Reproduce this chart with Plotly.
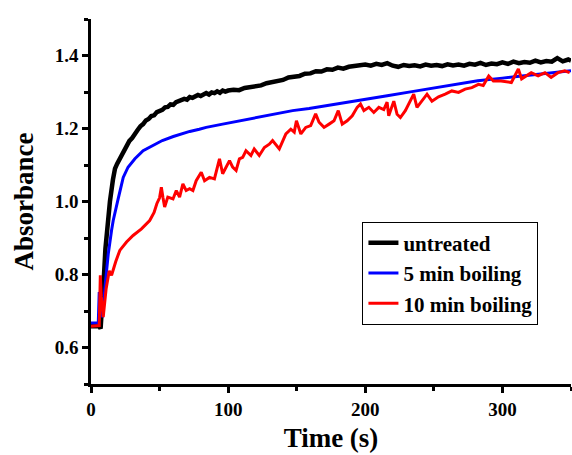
import plotly.graph_objects as go

# ---- data ----
untreated_t = [0, 3, 6, 7, 8, 9.5, 10.5, 12, 13.8, 16, 17.5, 19,
               20, 22, 24, 26, 28, 30, 32, 34, 36, 38, 40, 42, 44, 46, 48, 50, 52, 54, 56, 58,
               60, 62, 64, 66, 68, 70, 72, 74, 76, 78, 80, 82, 84, 86, 88, 90, 92, 94, 96, 98,
               100, 104, 108, 112, 116, 120, 124, 128, 132, 136, 140, 144, 148, 152, 156, 160,
               164, 168, 172, 176, 180, 184, 188, 192, 196, 200, 204, 208, 212, 216, 220, 224,
               228, 232, 236, 240, 244, 248, 252, 256, 260, 264, 268, 272, 276, 280, 284, 288,
               292, 296, 300, 304, 308, 312, 316, 320, 324, 328, 332, 336, 340, 344, 348, 350]
untreated_a = [0.658, 0.659, 0.658, 0.652, 0.70, 0.80, 0.87, 0.94, 1.00, 1.06, 1.09, 1.103,
               1.110, 1.128, 1.140, 1.152, 1.166, 1.174, 1.188, 1.196, 1.206, 1.212, 1.222, 1.226,
               1.234, 1.236, 1.245, 1.248, 1.251, 1.258, 1.259, 1.266, 1.265, 1.272, 1.274, 1.276,
               1.281, 1.279, 1.286, 1.284, 1.289, 1.292, 1.289, 1.294, 1.297, 1.293, 1.299, 1.297,
               1.302, 1.298, 1.304, 1.301,
               1.304, 1.306, 1.305, 1.311, 1.313, 1.316, 1.318, 1.324, 1.326, 1.331, 1.333, 1.340,
               1.342, 1.344, 1.350, 1.351, 1.357, 1.356, 1.362, 1.361, 1.367, 1.364, 1.369, 1.371,
               1.370, 1.375, 1.372, 1.377, 1.374, 1.379, 1.372, 1.369, 1.374, 1.371, 1.373, 1.370,
               1.375, 1.372, 1.374, 1.371, 1.376, 1.373, 1.375, 1.372, 1.377, 1.375, 1.380, 1.374,
               1.378, 1.376, 1.381, 1.377, 1.383, 1.379, 1.382, 1.380, 1.386, 1.381, 1.385, 1.383,
               1.393, 1.384, 1.389, 1.386]

boil5_t = [0, 3, 5.3, 6, 7, 8.4, 10.2, 12.6, 15, 16.2, 19.8, 23.5, 27, 32, 38, 45, 52, 60, 66,
           72, 79, 84, 96, 108, 120, 130, 140, 147, 159, 171, 183, 195, 207, 216, 234, 258,
           282, 300, 319, 335, 350]
boil5_a = [0.667, 0.667, 0.667, 0.752, 0.72, 0.683, 0.766, 0.857, 0.921, 0.948, 1.007, 1.066,
           1.094, 1.117, 1.139, 1.153, 1.167, 1.178, 1.186, 1.192, 1.198, 1.203, 1.212, 1.221,
           1.229, 1.236, 1.243, 1.249, 1.255, 1.262, 1.271, 1.278, 1.283, 1.29, 1.301, 1.316,
           1.331, 1.338, 1.345, 1.352, 1.358]

boil10_t = [0, 3, 6, 6.8, 7.5, 8.9, 11, 13.3, 15, 18, 21, 25.9, 30.7, 36.8, 42.8, 46, 48, 50,
            51.3, 52.5, 53.7, 56, 59.8, 62.2, 64.6, 67, 69.4, 71.9, 74.3, 76.7, 80.4, 82.8,
            86.4, 90, 93.7, 96, 98.5, 101, 103.3, 105.8, 108.2, 110.6, 113, 116.6, 119, 122.7,
            126.4, 130, 132.4, 137.3, 142.1, 145.7, 148.2, 149.8, 153, 156.6, 160.2, 163.8,
            166.3, 169.9, 173.6, 177.2, 180.3, 183.2, 186.8, 190.5, 194.1, 196.5, 199, 202.6,
            206.2, 209.9, 213.5, 215.9, 217.1, 220.8, 223.2, 225.6, 229.2, 232.9, 235.3, 237.7,
            241.3, 245, 248.6, 253.4, 258.3, 263.1, 268, 272.8, 277.7, 282.5, 286, 290, 293.4,
            299, 306.5, 311.6, 314, 321, 326, 331, 335.5, 340.5, 345.4, 349]
boil10_a = [0.658, 0.659, 0.66, 0.798, 0.74, 0.683, 0.76, 0.81, 0.798, 0.835, 0.866, 0.889,
            0.907, 0.925, 0.948, 0.97, 0.994, 1.01, 1.039, 1.01, 0.985, 1.012, 1.007, 1.03,
            1.012, 1.048, 1.03, 1.035, 1.03, 1.057, 1.08, 1.057, 1.066, 1.062, 1.117, 1.076,
            1.094, 1.112, 1.094, 1.085, 1.117, 1.121, 1.139, 1.126, 1.144, 1.126, 1.148, 1.157,
            1.167, 1.144, 1.185, 1.198, 1.19, 1.221, 1.185, 1.203, 1.208, 1.24, 1.217, 1.203,
            1.212, 1.221, 1.249, 1.212, 1.221, 1.235, 1.258, 1.267, 1.249, 1.258, 1.244, 1.258,
            1.252, 1.272, 1.235, 1.275, 1.239, 1.23, 1.249, 1.275, 1.294, 1.258, 1.275, 1.294,
            1.275, 1.287, 1.294, 1.303, 1.299, 1.308, 1.312, 1.321, 1.318, 1.344, 1.33, 1.33,
            1.326, 1.363, 1.336, 1.353, 1.344, 1.353, 1.34, 1.353, 1.358, 1.353]

series_names = ["untreated", "5 min boiling", "10 min boiling"]
x_ticks = [0, 100, 200, 300]
y_ticks = [0.6, 0.8, 1.0, 1.2, 1.4]

FONT = "Liberation Serif"

fig = go.Figure()
fig.add_trace(go.Scatter(x=untreated_t, y=untreated_a, mode="lines", name=series_names[0],
                         line=dict(color="#000000", width=4.5)))
fig.add_trace(go.Scatter(x=boil5_t, y=boil5_a, mode="lines", name=series_names[1],
                         line=dict(color="#0000FF", width=3)))
fig.add_trace(go.Scatter(x=boil10_t, y=boil10_a, mode="lines", name=series_names[2],
                         line=dict(color="#FF0000", width=3)))

axis_common = dict(
    showgrid=False, zeroline=False, showline=True, linecolor="black", linewidth=2.5,
    ticks="outside", ticklen=6, tickwidth=2.5, tickcolor="black",
    tickfont=dict(family=FONT, size=19, color="black", weight="bold"),
    mirror=False, automargin=False,
)

fig.update_layout(
    width=572, height=455,
    margin=dict(l=91, r=1, t=19, b=71),
    paper_bgcolor="white", plot_bgcolor="white",
    xaxis=dict(range=[0, 350], tickvals=x_ticks, ticktext=[str(v) for v in x_ticks],
               minor=dict(tickvals=[50, 150, 250, 350], ticklen=4, tickwidth=2.5,
                          tickcolor="black", ticks="outside"),
               title=dict(text="Time (s)", standoff=10,
                          font=dict(family=FONT, size=27, color="black", weight="bold")),
               **axis_common),
    yaxis=dict(range=[0.5, 1.5], tickvals=y_ticks, ticktext=["%.1f" % v for v in y_ticks],
               minor=dict(tickvals=[0.5, 0.7, 0.9, 1.1, 1.3, 1.5], ticklen=4, tickwidth=2.5,
                          tickcolor="black", ticks="outside"),
               title=dict(text="Absorbance", standoff=14,
                          font=dict(family=FONT, size=27, color="black", weight="bold")),
               **axis_common),
    legend=dict(x=0.5655, y=0.445, xanchor="left", yanchor="top",
                bgcolor="white", bordercolor="black", borderwidth=1,
                font=dict(family=FONT, size=21, color="black", weight="bold"),
                tracegroupgap=0, itemwidth=30),
    showlegend=True,
)

fig.write_html("out.html", config={"displayModeBar": False},
               post_script="document.body.style.margin='0';")
